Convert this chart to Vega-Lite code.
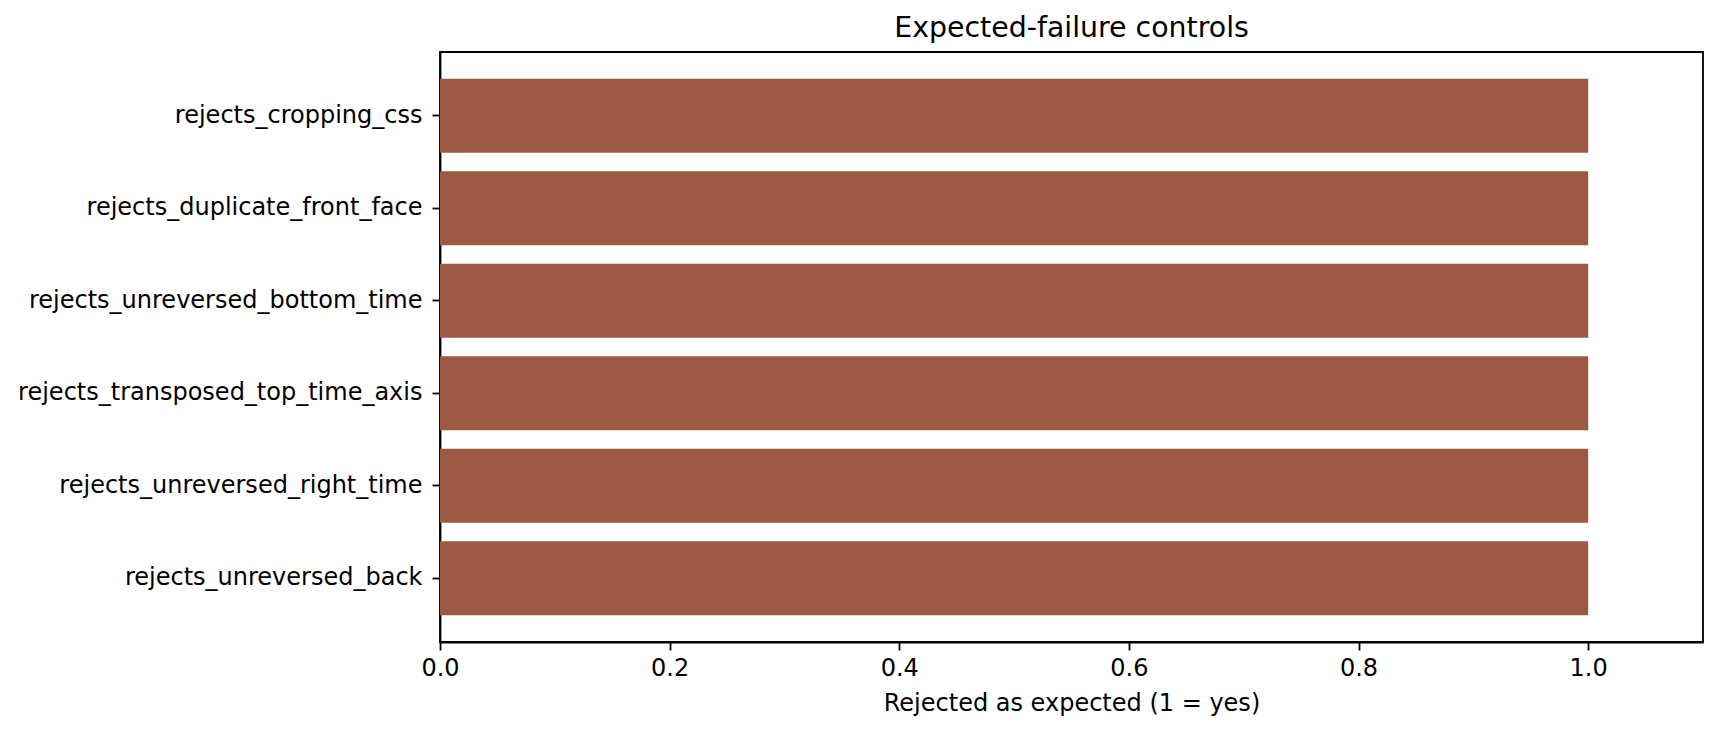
{
  "$schema": "https://vega.github.io/schema/vega-lite/v6.json",
  "autosize": "none",
  "width": 1263,
  "height": 590,
  "padding": {"left": 440, "top": 52, "right": 16, "bottom": 91},
  "background": "white",
  "title": {"text": "Expected-failure controls", "font": "DejaVu Sans", "fontSize": 28.4, "fontWeight": "normal", "color": "black", "offset": 9, "anchor": "middle"},
  "data": {"values": [
    {"test": "rejects_cropping_css", "rejected": 1},
    {"test": "rejects_duplicate_front_face", "rejected": 1},
    {"test": "rejects_unreversed_bottom_time", "rejected": 1},
    {"test": "rejects_transposed_top_time_axis", "rejected": 1},
    {"test": "rejects_unreversed_right_time", "rejected": 1},
    {"test": "rejects_unreversed_back", "rejected": 1}
  ]},
  "mark": {"type": "bar", "color": "#9c5a44"},
  "encoding": {
    "y": {"field": "test", "type": "nominal", "sort": null,
      "scale": {"paddingInner": 0.2, "paddingOuter": 0.29},
      "axis": {"title": null, "labelFont": "DejaVu Sans", "labelFontSize": 24, "labelColor": "black", "tickColor": "black", "tickSize": 8, "tickWidth": 1.8, "labelPadding": 10, "domainColor": "black", "domainWidth": 1.8, "labelLimit": 1000}},
    "x": {"field": "rejected", "type": "quantitative",
      "scale": {"domain": [0, 1.1], "nice": false, "zero": true},
      "axis": {"title": "Rejected as expected (1 = yes)", "values": [0, 0.2, 0.4, 0.6, 0.8, 1.0], "format": ".1f", "grid": false, "labelFont": "DejaVu Sans", "labelFontSize": 24, "labelColor": "black", "tickColor": "black", "tickSize": 8, "tickWidth": 1.8, "labelPadding": 6, "domainColor": "black", "domainWidth": 1.8, "titleFont": "DejaVu Sans", "titleFontSize": 24, "titleFontWeight": "normal", "titleColor": "black", "titlePadding": 11, "labelFlush": false}}
  },
  "config": {
    "view": {"stroke": "black", "strokeWidth": 1.8},
    "axis": {"grid": false}
  }
}
